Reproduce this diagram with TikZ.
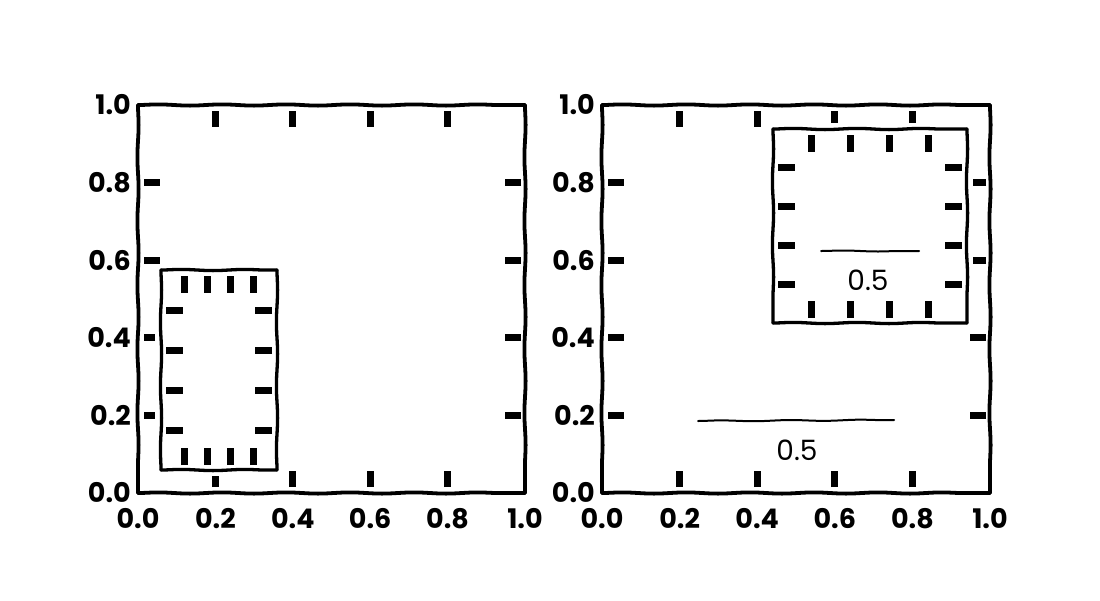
\documentclass[tikz,border=0pt]{standalone}
\usepackage{fontspec}
\setmainfont{Poppins}
\usetikzlibrary{decorations.pathmorphing}
\begin{document}
\begin{tikzpicture}[x=1pt,y=-1pt,
  spine/.style={line width=3.8pt, line cap=round, decorate,
    decoration={snake, amplitude=0.6pt, segment length=64pt}},
  ispine/.style={spine, line width=3.3pt},
  tickmark/.style={line width=7pt},
  lbl/.style={font=\fontsize{27}{27}\selectfont\bfseries, inner sep=0pt},
  barlbl/.style={font=\fontsize{28}{28}\selectfont, inner sep=0pt},
  dline/.style={line width=2pt, line cap=round, decorate,
    decoration={snake, amplitude=0.5pt, segment length=70pt}}]
\useasboundingbox (0,0) rectangle (1100,600);

% ---------- main axes: #1 prefix, #2 x0, #3 x1, #4 ytop, #5 ybot
\newcommand\mainaxes[5]{%
  \foreach \f in {0.2,0.4,0.6,0.8}{%
    \draw[tickmark] ({#2+(#3-#2)*\f},#5-6) -- ({#2+(#3-#2)*\f},#5-22);
    \draw[tickmark] ({#2+(#3-#2)*\f},#4+6) -- ({#2+(#3-#2)*\f},#4+22);
    \draw[tickmark] (#2+6,{#5-(#5-#4)*\f}) -- (#2+22,{#5-(#5-#4)*\f});
    \draw[tickmark] (#3-4,{#5-(#5-#4)*\f}) -- (#3-20,{#5-(#5-#4)*\f});
  }%
  \draw[spine] (#2,#4) -- (#3,#4);
  \draw[spine] (#2,#5) -- (#3,#5);
  \draw[spine] (#2,#4) -- (#2,#5);
  \draw[spine] (#3,#4) -- (#3,#5);
  \foreach \t [count=\i] in {0.0,0.2,0.4,0.6,0.8,1.0}{%
    \node[lbl] (#1x\i) at ({#2+(#3-#2)*(\i-1)*0.2},519) {\t};
    \node[lbl, anchor=east] (#1y\i) at (#2-7,{#5-(#5-#4)*(\i-1)*0.2}) {\t};
  }%
}
% ---------- inset: #1 x0, #2 x1, #3 ytop, #4 ybot
\newcommand\insetaxes[4]{%
  \fill[white] (#1-6,#3-6) rectangle (#2+6,#4+6);
  \foreach \f in {0.2,0.4,0.6,0.8}{%
    \draw[tickmark] ({#1+(#2-#1)*\f},#4-5) -- ({#1+(#2-#1)*\f},#4-22);
    \draw[tickmark] ({#1+(#2-#1)*\f},#3+6) -- ({#1+(#2-#1)*\f},#3+23);
    \draw[tickmark] (#1+5,{#4-(#4-#3)*\f}) -- (#1+22,{#4-(#4-#3)*\f});
    \draw[tickmark] (#2-5,{#4-(#4-#3)*\f}) -- (#2-22,{#4-(#4-#3)*\f});
  }%
  \draw[ispine] (#1,#3) -- (#2,#3);
  \draw[ispine] (#1,#4) -- (#2,#4);
  \draw[ispine] (#1,#3) -- (#1,#4);
  \draw[ispine] (#2,#3) -- (#2,#4);
}

\mainaxes{L}{138}{525}{105}{493}
\insetaxes{161}{277}{270}{470}

\mainaxes{R}{602}{990}{105}{493}
\insetaxes{773}{967}{129}{323}

% scale bars
\coordinate (b1s) at (698,421);
\coordinate (b1e) at (894,420);
\draw[dline] (b1s) -- (b1e);
\node[barlbl] (b1l) at (797,450) {0.5};

\coordinate (b2s) at (821,251);
\coordinate (b2e) at (919,251);
\draw[dline] (b2s) -- (b2e);
\node[barlbl] (b2l) at (868,280) {0.5};
\end{tikzpicture}
\end{document}
